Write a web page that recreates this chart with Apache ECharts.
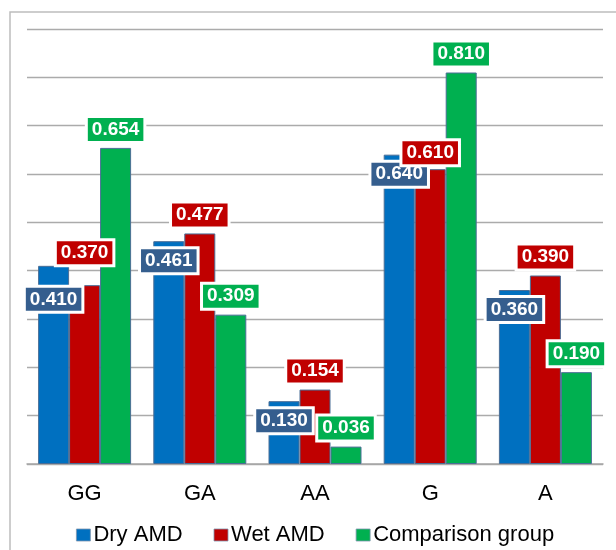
<!DOCTYPE html>
<html>
<head>
<meta charset="utf-8">
<script src="https://cdn.jsdelivr.net/npm/echarts@6/dist/echarts.min.js"></script>
<style>
  html, body { margin: 0; padding: 0; background: #ffffff; }
  #chart { width: 616px; height: 550px; }
</style>
</head>
<body>
<div id="chart"></div>
<script>
// Allele / genotype frequencies per group
const categories = ['GG', 'GA', 'AA', 'G', 'A'];
const dryAMD = [0.410, 0.461, 0.130, 0.640, 0.360];
const wetAMD = [0.370, 0.477, 0.154, 0.610, 0.390];
const comparisonGroup = [0.654, 0.309, 0.036, 0.810, 0.190];
const seriesNames = ['Dry AMD', 'Wet AMD', 'Comparison group'];

const FONT = '"Liberation Sans", Arial, sans-serif';

function labelStyle(bg, position, distance) {
  return {
    show: true,
    position: position,
    distance: distance,
    formatter: p => p.value.toFixed(3),
    color: '#ffffff',
    fontFamily: FONT,
    fontWeight: 'bold',
    fontSize: 19,
    lineHeight: 21,
    backgroundColor: bg,
    padding: [1, 4],
    borderColor: '#ffffff',
    borderWidth: 3
  };
}

// Individual label nudges for the first group, where labels would collide
function withOffsets(values, offsets) {
  return values.map((v, i) => offsets[i]
    ? { value: v, label: { offset: offsets[i] } }
    : v);
}

const barBorder = { borderColor: '#4A6E96', borderWidth: 1 };

const chart = echarts.init(document.getElementById('chart'), null, { renderer: 'canvas' });

chart.setOption({
  animation: false,
  backgroundColor: '#ffffff',
  textStyle: { fontFamily: FONT },
  graphic: [{
    type: 'rect',
    shape: { x: 10, y: 12, width: 700, height: 600 },
    style: { fill: 'none', stroke: '#BDBDBD', lineWidth: 1.5 },
    silent: true,
    z: -10
  }],
  grid: { left: 27, right: 13, top: 29, bottom: 86, containLabel: false },
  legend: {
    data: seriesNames,
    left: 71,
    top: 519,
    itemWidth: 14,
    itemHeight: 12,
    itemGap: 31,
    icon: 'rect',
    itemStyle: { borderColor: '#7F95AE', borderWidth: 0.8 },
    textStyle: { fontFamily: FONT, fontSize: 22, color: '#000000', padding: [0, 0, 0, -2] }
  },
  xAxis: {
    type: 'category',
    data: categories,
    axisLine: { show: true, lineStyle: { color: '#A6A6A6', width: 1.5 } },
    axisTick: { show: false },
    axisLabel: { fontFamily: FONT, fontSize: 22, color: '#000000', margin: 19 }
  },
  yAxis: {
    type: 'value',
    min: 0,
    max: 0.9,
    interval: 0.1,
    axisLine: { show: false },
    axisTick: { show: false },
    axisLabel: { show: false },
    splitLine: { show: true, lineStyle: { color: '#ABABAB', width: 1.3 } }
  },
  series: [
    {
      name: seriesNames[0],
      type: 'bar',
      barWidth: 31,
      barGap: '0%',
      itemStyle: Object.assign({ color: '#0070C0' }, barBorder),
      label: labelStyle('#355E8E', 'insideTop', 8),
      data: withOffsets(dryAMD, [[0, 14], null, null, null, null])
    },
    {
      name: seriesNames[1],
      type: 'bar',
      barWidth: 31,
      barGap: '0%',
      itemStyle: Object.assign({ color: '#C00000' }, barBorder),
      label: labelStyle('#C00000', 'top', 7),
      data: withOffsets(wetAMD, [[0, -14], null, null, [0, 2], null])
    },
    {
      name: seriesNames[2],
      type: 'bar',
      barWidth: 31,
      barGap: '0%',
      itemStyle: Object.assign({ color: '#00B050' }, barBorder),
      label: labelStyle('#00B050', 'top', 7),
      data: comparisonGroup
    }
  ]
});
</script>
</body>
</html>
